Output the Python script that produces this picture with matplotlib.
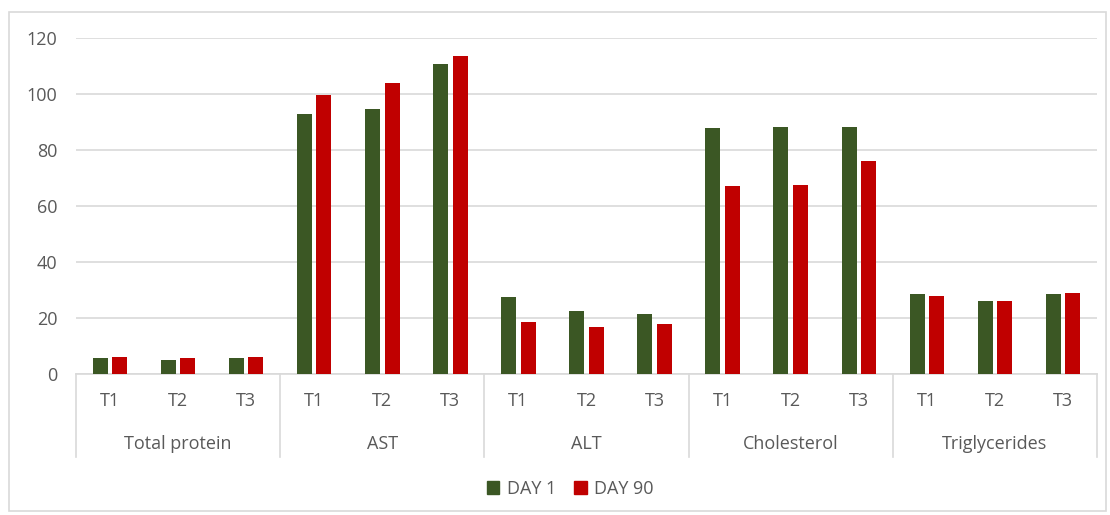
import numpy as np
import matplotlib
matplotlib.use('Agg')
import matplotlib.pyplot as plt
from matplotlib.patches import Rectangle, Patch
import matplotlib.transforms as mtransforms

plt.rcParams['font.family'] = ['Open Sans', 'DejaVu Sans']

# 数据
groups = ['Total protein', 'AST', 'ALT', 'Cholesterol', 'Triglycerides']
treatments = ['T1', 'T2', 'T3']
day1 = [5.7, 5.0, 5.7,
        92.9, 94.5, 110.7,
        27.5, 22.4, 21.4,
        87.9, 88.2, 88.2,
        28.5, 26.0, 28.5]
day90 = [6.1, 5.7, 6.1,
         99.8, 103.8, 113.6,
         18.7, 16.7, 17.9,
         67.1, 67.5, 76.1,
         28.0, 26.0, 28.8]

green = '#3B5724'
red = '#C00000'
grey_txt = '#595959'
grid_c = '#D9D9D9'
fs = 13

W, H = 1110, 515
fig = plt.figure(figsize=(W / 100, H / 100), dpi=100)
# 外框
fig.patches.append(Rectangle((9 / W, 1 - 511 / H), 1097 / W, 499 / H,
                             transform=fig.transFigure, fill=False,
                             edgecolor=grid_c, linewidth=1.2))

ax = fig.add_axes([76 / W, 1 - 374 / H, (1097 - 76) / W, (374 - 38) / H])

x = np.arange(len(day1))
bw = 0.22
off = 0.143
ax.bar(x - off, day1, bw, color=green, zorder=3, label='DAY 1')
ax.bar(x + off, day90, bw, color=red, zorder=3, label='DAY 90')

ax.set_xlim(-0.5, len(day1) - 0.5)
ax.set_ylim(0, 120)
ax.set_yticks(np.arange(0, 121, 20))
ax.yaxis.grid(True, color=grid_c, linewidth=1.2, zorder=0)
ax.tick_params(axis='y', length=0, pad=13.5, labelsize=fs, labelcolor=grey_txt)
ax.set_xticks([])
for s in ['top', 'right', 'left']:
    ax.spines[s].set_visible(False)
ax.spines['bottom'].set_color(grid_c)
ax.spines['bottom'].set_linewidth(1.2)

# 分类坐标轴（两级）
trans = mtransforms.blended_transform_factory(ax.transData, ax.transAxes)
sep_bottom = -(457 - 374) / (374 - 38)
for i in range(len(groups) + 1):
    xs = i * 3 - 0.5
    ax.plot([xs, xs], [0, sep_bottom], transform=trans, color=grid_c,
            linewidth=1.2, clip_on=False)
for i in range(len(x)):
    ax.text(x[i], -(401 - 374) / 336, treatments[i % 3], transform=trans,
            ha='center', va='center', fontsize=fs, color=grey_txt)
for g, name in enumerate(groups):
    ax.text(g * 3 + 1, -(444 - 374) / 336, name, transform=trans,
            ha='center', va='center', fontsize=fs, color=grey_txt)

handles = [Patch(color=green, label='DAY 1'), Patch(color=red, label='DAY 90')]
fig.legend(handles=handles, loc='center', bbox_to_anchor=(570 / W, 1 - 489 / H),
           ncol=2, frameon=False, fontsize=fs, handlelength=0.7, handleheight=0.7,
           handletextpad=0.4, columnspacing=1.0, labelcolor=grey_txt)

plt.savefig('out.png', dpi=100)
